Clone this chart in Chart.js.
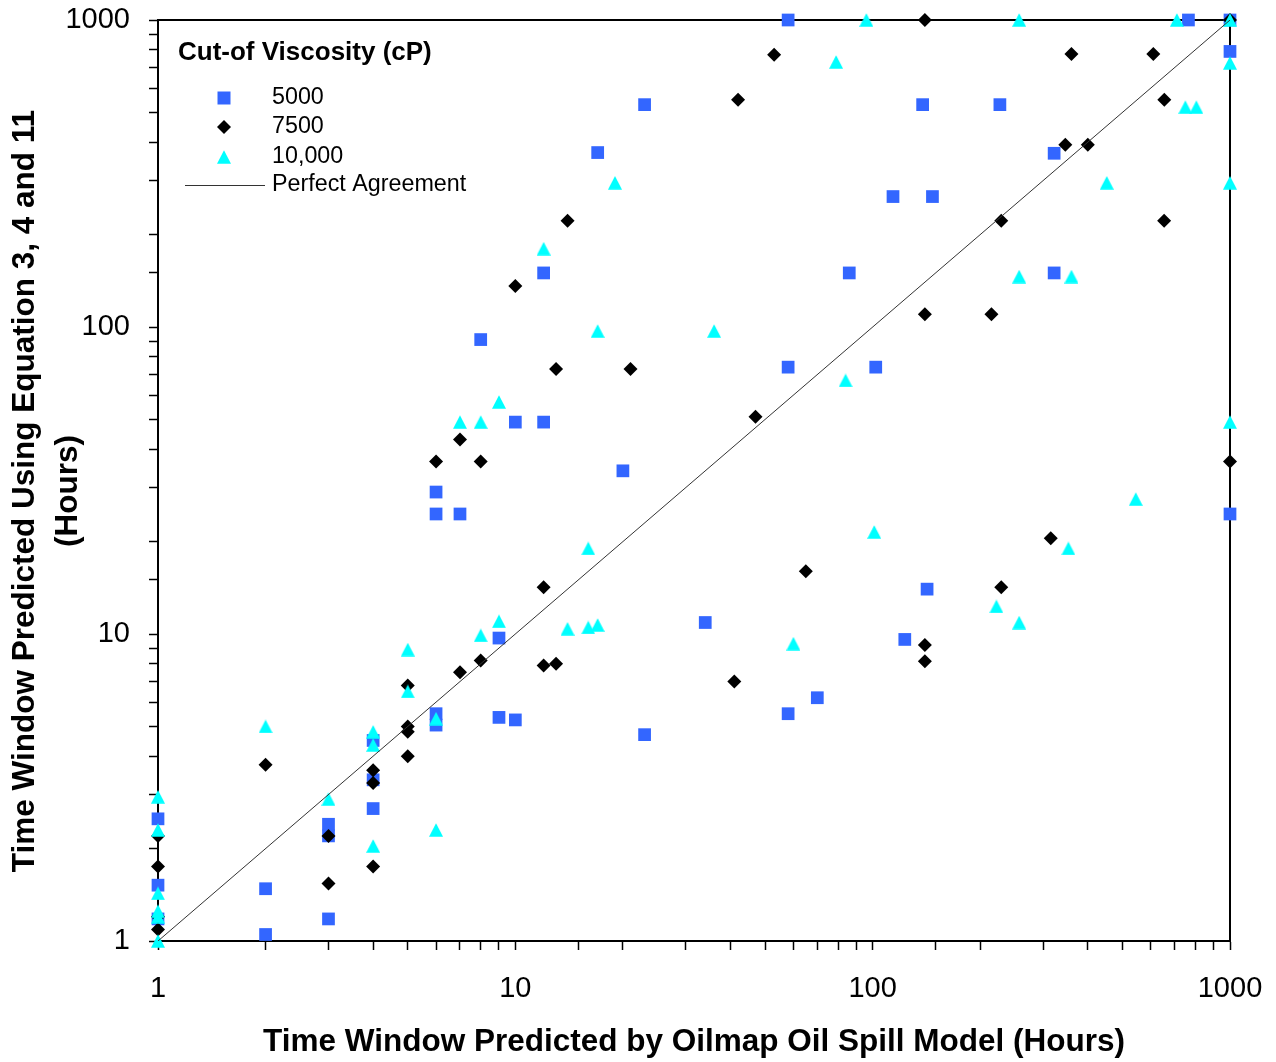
<!DOCTYPE html>
<html>
<head>
<meta charset="utf-8">
<title>Time window comparison</title>
<script src="https://cdn.jsdelivr.net/npm/chart.js@4/dist/chart.umd.min.js"></script>
<style>
  html, body { margin: 0; padding: 0; background: #fff; }
  #wrap { width: 1276px; height: 1062px; }
</style>
</head>
<body>
<div id="wrap"><canvas id="chart" width="1276" height="1062"></canvas></div>
<script>
// [oilmap hours, equation hours]
const cut5000 = [
  [58, 1000], [765, 1000], [1000, 1000], [1000, 790], [23, 530], [138, 530], [227, 530],
  [17, 370], [322, 368], [114, 266], [147, 266], [12, 150], [86, 150], [322, 150],
  [8, 91], [58, 74], [102, 74], [10, 49], [12, 49], [20, 34], [6, 29], [6, 24.6],
  [7, 24.6], [1000, 24.6], [142, 14], [34, 10.9], [9, 9.7], [123, 9.6], [58, 5.5],
  [70, 6.2], [6, 5.5], [6, 5.05], [9, 5.35], [10, 5.25], [23, 4.7], [4, 4.5], [4, 3.35],
  [4, 2.7], [3, 2.4], [3, 2.2], [2, 1.48], [3, 1.18], [2, 1.05], [1, 2.5], [1, 1.52], [1, 1.18]
];
const cut7500 = [
  [140, 1000], [1000, 1000], [53, 770], [360, 775], [610, 775], [42, 550], [655, 550],
  [346, 392], [400, 392], [14, 222], [229, 222], [654, 222], [10, 136], [140, 110],
  [215, 110], [13, 73], [21, 73], [47, 51], [7, 43], [6, 36.5], [8, 36.5], [1000, 36.5],
  [315, 20.5], [65, 16], [12, 14.2], [229, 14.2], [140, 9.2], [140, 8.15], [8, 8.2],
  [12, 7.9], [13, 8.0], [7, 7.5], [41, 7.0], [5, 6.8], [5, 5.0], [5, 4.8], [5, 4.0],
  [2, 3.75], [4, 3.6], [4, 3.27], [3, 2.2], [4, 1.75], [3, 1.54], [1, 2.2], [1, 1.75],
  [1, 1.2], [1, 1.09]
];
const cut10000 = [
  [96, 1000], [257, 1000], [710, 1000], [1000, 1000], [79, 730], [1000, 725], [750, 520],
  [805, 520], [19, 295], [452, 295], [1000, 295], [12, 180], [257, 146], [360, 146],
  [17, 97], [36, 97], [84, 67], [9, 57], [7, 49], [8, 49], [1000, 49], [545, 27.5],
  [101, 21.5], [16, 19], [353, 19], [222, 12.3], [9, 11], [257, 10.9], [14, 10.4],
  [16, 10.5], [17, 10.7], [8, 9.9], [60, 9.3], [5, 8.9], [5, 6.5], [6, 5.3], [2, 5.0],
  [4, 4.8], [4, 4.35], [3, 2.9], [6, 2.3], [4, 2.04], [1, 2.95], [1, 2.3], [1, 1.43],
  [1, 1.25], [1, 1.2], [1, 1.0]
];
const agreement = [[1, 1], [1000, 1000]];

const seriesLabels = ['5000', '7500', '10,000', 'Perfect Agreement'];
const legendTitle = 'Cut-of Viscosity (cP)';
const xTitle = 'Time Window Predicted by Oilmap Oil Spill Model (Hours)';
const yTitle = ['Time Window Predicted Using Equation 3, 4 and 11', '(Hours)'];

const FONT = "'Liberation Sans', Arial, sans-serif";

function toPoints(pairs) {
  return pairs.map(p => ({ x: p[0], y: p[1] }));
}

function decadeLabel(v) {
  const l = Math.log10(v);
  return Math.abs(l - Math.round(l)) < 1e-9 ? String(v) : '';
}

// triangle as an image so it sits centred on its value like the original markers
function makeTriangle(color) {
  const c = document.createElement('canvas');
  c.width = 14;
  c.height = 14;
  const g = c.getContext('2d');
  g.fillStyle = color;
  g.beginPath();
  g.moveTo(7, 0.3);
  g.lineTo(14, 13.8);
  g.lineTo(0, 13.8);
  g.closePath();
  g.fill();
  return c;
}
const triangle = makeTriangle('#00FFFF');

// simple marker shapes for the hand drawn legend
function drawMarker(ctx, style, x, y, color) {
  if (typeof style === 'object') {
    ctx.drawImage(style, x - style.width / 2, y - style.height / 2);
    return;
  }
  ctx.fillStyle = color;
  ctx.beginPath();
  if (style === 'rect') {
    ctx.rect(x - 6.5, y - 6.5, 13, 13);
  } else {
    ctx.moveTo(x, y - 7); ctx.lineTo(x + 7, y); ctx.lineTo(x, y + 7); ctx.lineTo(x - 7, y);
    ctx.closePath();
  }
  ctx.fill();
}

const framePlugin = {
  id: 'frame',
  beforeDatasetsDraw(chart) {
    const { ctx, chartArea: a } = chart;
    ctx.save();
    ctx.strokeStyle = '#000';
    ctx.lineWidth = 2;
    ctx.beginPath();
    ctx.moveTo(a.left, a.top);
    ctx.lineTo(a.right, a.top);
    ctx.lineTo(a.right, a.bottom);
    ctx.stroke();
    ctx.restore();
  }
};

const textPlugin = {
  id: 'texts',
  afterDraw(chart) {
    const { ctx, chartArea: a } = chart;
    ctx.save();
    ctx.fillStyle = '#000';
    ctx.textBaseline = 'middle';

    // axis titles
    ctx.font = 'bold 31.5px ' + FONT;
    ctx.textAlign = 'center';
    ctx.fillText(xTitle, (a.left + a.right) / 2, 1042);

    ctx.save();
    ctx.translate(0, 491);
    ctx.rotate(-Math.PI / 2);
    ctx.fillText(yTitle[0], 0, 25);
    ctx.fillText(yTitle[1], 0, 68);
    ctx.restore();

    // legend
    ctx.textAlign = 'left';
    ctx.font = 'bold 26px ' + FONT;
    ctx.fillText(legendTitle, 178, 53);

    ctx.font = '23.3px ' + FONT;
    const rows = [98, 127, 157, 185];
    const ds = chart.data.datasets;
    for (let i = 0; i < 3; i++) {
      drawMarker(ctx, ds[i].pointStyle, 224, rows[i], ds[i].backgroundColor);
      ctx.fillStyle = '#000';
      ctx.fillText(seriesLabels[i], 272, rows[i]);
    }
    ctx.strokeStyle = '#333';
    ctx.lineWidth = 1;
    ctx.beginPath();
    ctx.moveTo(185, rows[3] + 0.5);
    ctx.lineTo(265, rows[3] + 0.5);
    ctx.stroke();
    ctx.fillText(seriesLabels[3], 272, rows[3]);
    ctx.restore();
  }
};

const axisStyle = {
  type: 'logarithmic',
  min: 1,
  max: 1000,
  border: { color: '#000', width: 2 },
  grid: { drawOnChartArea: false, drawTicks: true, tickLength: 9, tickColor: '#000', tickWidth: 1.5 },
  ticks: {
    autoSkip: false,
    maxRotation: 0,
    color: '#000',
    font: { family: FONT, size: 29 },
    callback: decadeLabel
  }
};

new Chart(document.getElementById('chart'), {
  type: 'scatter',
  data: {
    datasets: [
      {
        label: seriesLabels[0], data: toPoints(cut5000), pointStyle: 'rect', pointRadius: 9,
        backgroundColor: '#3366FF', borderWidth: 0, clip: false, order: 3
      },
      {
        label: seriesLabels[1], data: toPoints(cut7500), pointStyle: 'rectRot', pointRadius: 7,
        backgroundColor: '#000000', borderWidth: 0, clip: false, order: 2
      },
      {
        label: seriesLabels[2], data: toPoints(cut10000), pointStyle: triangle, pointRadius: 7,
        backgroundColor: '#00FFFF', borderWidth: 0, clip: false, order: 1
      },
      {
        label: seriesLabels[3], type: 'line', data: toPoints(agreement), showLine: true,
        borderColor: '#333', borderWidth: 1, pointRadius: 0, fill: false, order: 0
      }
    ]
  },
  options: {
    responsive: false,
    animation: false,
    layout: { padding: { top: 20, right: 46, left: 0, bottom: 0 } },
    plugins: { legend: { display: false }, tooltip: { enabled: false } },
    scales: {
      x: Object.assign({}, axisStyle, {
        position: 'bottom',
        ticks: Object.assign({}, axisStyle.ticks, { padding: 22 }),
        afterFit(s) {
          s.height = 121;
          s.paddingLeft = 0;
          s.paddingRight = 0;
        }
      }),
      y: Object.assign({}, axisStyle, {
        position: 'left',
        ticks: Object.assign({}, axisStyle.ticks, { padding: 19 }),
        afterFit(s) {
          s.width = 158;
          s.paddingTop = 0;
          s.paddingBottom = 0;
        }
      })
    }
  },
  plugins: [framePlugin, textPlugin]
});
</script>
</body>
</html>
